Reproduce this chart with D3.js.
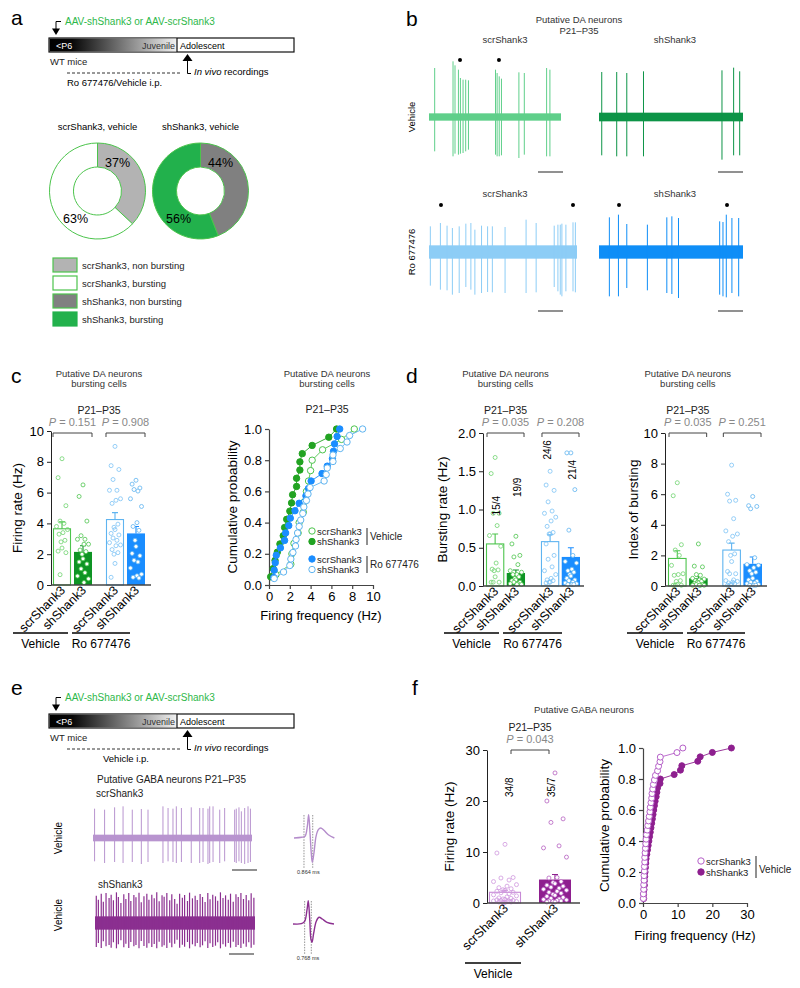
<!DOCTYPE html>
<html>
<head>
<meta charset="utf-8">
<script src="https://cdn.jsdelivr.net/npm/d3@7/dist/d3.min.js"></script>
<style>
  body { margin: 0; background: #fff; }
</style>
</head>
<body>
<script>
// ---------- values ----------
var genotypes = ["scrShank3", "shShank3"];
var treatments = ["Vehicle", "Ro 677476"];

// a: share of bursting / non bursting cells (%)
var donutScr = [37, 63];
var donutSh = [44, 56];
var legendItems = ["scrShank3, non bursting", "scrShank3, bursting", "shShank3, non bursting", "shShank3, bursting"];

// b: spike trains (time in % of sweep, up / down deflection in a.u.)
var tScrVeh = [4.3, 18.2, 19.7, 22.3, 23.8, 25.8, 27.8, 29.9, 50.4, 51.6, 53.2, 54.9, 68.1, 72.2, 89.1, 91.6];
var upScrVeh = [147, 167, 155, 142, 117, 112, 112, 110, 142, 132, 122, 115, 134, 132, 147, 142];
var dnScrVeh = [103, 118, 110, 113, 110, 108, 103, 98, 113, 118, 118, 115, 123, 113, 118, 118];
var tShVeh = [1.9, 12.3, 19.3, 30.9, 85.4, 93.5, 97.7];
var upShVeh = [135, 135, 132, 137, 140, 148, 137];
var dnShVeh = [115, 118, 118, 118, 128, 115, 115];
var tScrRo = [0.9, 7.7, 12.2, 15.8, 20.4, 24.9, 28.3, 31.0, 35.5, 39.6, 42.8, 51.4, 65.6, 72.4, 84.6, 87.1, 88.7, 89.8, 92.5, 97.3, 98.9];
var upScrRo = [77, 87, 79, 72, 77, 85, 87, 67, 79, 77, 77, 75, 97, 87, 79, 82, 82, 85, 82, 89, 89];
var dnScrRo = [101, 113, 115, 128, 123, 105, 113, 128, 123, 120, 121, 123, 123, 121, 105, 118, 128, 133, 118, 118, 121];
var tShRo = [7.2, 13.5, 19.3, 33.6, 47.1, 50.6, 55.2, 83.8, 86.1, 88.4, 92.3, 97.0];
var upShRo = [104, 112, 84, 82, 104, 107, 102, 92, 90, 112, 102, 102];
var dnShRo = [133, 133, 108, 115, 123, 126, 138, 128, 133, 136, 123, 133];
var burstScrVeh = [23.5, 53];
var burstScrRo = [8.1, 97.3];
var burstShRo = [13.9, 88.9];

// c: firing rate of bursting DA cells (Hz)
var frScrVeh = [8.2, 6.97, 5.15, 4.15, 4.0, 3.8, 3.6, 3.4, 3.3, 2.9, 2.8, 2.4, 2.2, 2.1, 0.67];
var frShVeh = [6.5, 5.75, 4.15, 3.2, 2.97, 2.97, 2.65, 2.65, 2.27, 2.17, 2.0, 1.7, 1.5, 1.37, 1.05, 0.8, 0.58, 0.4, 0.16];
var frScrRo = [9.0, 7.75, 7.5, 6.85, 6.15, 6.15, 5.6, 5.5, 5.3, 3.95, 3.75, 3.6, 3.35, 3.25, 3.05, 2.9, 2.75, 2.6, 2.55, 2.3, 2.1, 2.0, 1.4, 0.5];
var frShRo = [6.8, 6.55, 6.3, 6.2, 6.1, 5.6, 5.1, 4.05, 3.8, 3.55, 2.9, 2.5, 2.05, 1.9, 1.6, 1.5, 1.1, 0.7, 0.6, 0.5, 0.45];
var frMeans = [3.65, 2.15, 4.25, 3.35];
var frSems = [0.45, 0.4, 0.45, 0.45];
var pC = ["0.151", "0.908"];

// d: bursting rate (Hz) and index of bursting
var brScrVeh = [1.68, 1.47, 0.95, 0.95, 0.79, 0.66, 0.52, 0.30, 0.22, 0.21, 0.20, 0.12, 0.05, 0.05, 0.05];
var brShVeh = [0.65, 0.55, 0.40, 0.38, 0.28, 0.20, 0.18, 0.15, 0.15, 0.12, 0.10, 0.08, 0.07, 0.05, 0.05, 0.03, 0.03, 0.02, 0.02];
var brScrRo = [1.50, 1.32, 1.25, 1.10, 0.98, 0.95, 0.90, 0.85, 0.78, 0.70, 0.68, 0.68, 0.55, 0.40, 0.35, 0.25, 0.20, 0.15, 0.10, 0.08, 0.07, 0.05, 0.05, 0.04];
var brShRo = [1.74, 1.74, 1.26, 0.73, 0.40, 0.32, 0.30, 0.22, 0.20, 0.18, 0.15, 0.13, 0.10, 0.08, 0.07, 0.05, 0.04, 0.03, 0.02, 0.02, 0.02];
var brMeans = [0.55, 0.17, 0.58, 0.38];
var brSems = [0.13, 0.04, 0.09, 0.12];
var nLabelsD = ["15/4", "19/9", "24/6", "21/4"];
var pD1 = ["0.035", "0.208"];

var ibScrVeh = [6.75, 5.9, 2.7, 2.35, 2.0, 1.35, 0.8, 0.75, 0.7, 0.35, 0.3, 0.1, 0.05, 0.05, 0.05];
var ibShVeh = [2.75, 1.3, 1.25, 0.75, 0.7, 0.5, 0.45, 0.4, 0.35, 0.3, 0.25, 0.2, 0.15, 0.1, 0.1, 0.05, 0.05, 0.05, 0.05];
var ibScrRo = [7.9, 6.0, 5.6, 5.55, 4.4, 3.6, 3.4, 3.25, 2.9, 2.1, 2.0, 1.6, 0.95, 0.8, 0.8, 0.4, 0.35, 0.3, 0.25, 0.2, 0.15, 0.1, 0.1, 0.05];
var ibShRo = [5.85, 5.25, 5.2, 5.05, 1.85, 1.4, 1.35, 1.2, 1.0, 0.9, 0.8, 0.5, 0.4, 0.3, 0.25, 0.2, 0.15, 0.1, 0.05, 0.05, 0.05];
var ibMeans = [1.8, 0.5, 2.35, 1.45];
var ibSems = [0.5, 0.15, 0.45, 0.45];
var pD2 = ["0.035", "0.251"];

// e: GABA neuron spike trains and mean waveforms (ms, a.u.)
var tGabaScr = [1.0, 7.3, 13.6, 18.9, 24.7, 30.4, 34.6, 44.0, 47.2, 50.3, 52.4, 55.6, 61.8, 67.1, 69.2, 72.3, 73.4, 75.5, 79.7, 82.8, 89.1, 90.1, 91.8, 93.3, 95.4, 97.5, 99.0];
var upGabaScr = [88, 85, 92, 95, 85, 87, 85, 95, 90, 88, 95, 90, 92, 90, 90, 88, 95, 95, 85, 90, 85, 88, 92, 80, 90, 95, 88];
var dnGabaScr = [70, 75, 72, 75, 72, 78, 72, 75, 70, 72, 75, 72, 75, 75, 72, 78, 75, 72, 75, 70, 72, 75, 70, 75, 78, 75, 72];
var tGabaSh = [0.8, 2.1, 3.9, 5.2, 6.9, 8.8, 10.1, 11.5, 13.4, 14.6, 16.2, 18.0, 19.3, 21.1, 22.4, 24.3, 25.6, 27.5, 28.9, 30.6, 32.4, 33.7, 35.5, 37.0, 38.6, 40.1, 41.9, 43.2, 44.9, 46.7, 48.0, 49.8, 51.3, 52.9, 54.6, 56.0, 57.8, 59.1, 60.9, 62.6, 63.9, 65.7, 67.2, 68.8, 70.5, 71.9, 73.6, 75.3, 76.7, 78.4, 80.0, 81.6, 83.3, 84.7, 86.4, 88.1, 89.5, 91.2, 92.8, 94.5, 96.1, 97.6, 99.3];
var upGabaSh = [82, 70, 88, 64, 90, 75, 85, 68, 92, 78, 60, 86, 72, 90, 66, 84, 77, 91, 62, 80, 88, 70, 85, 74, 92, 65, 83, 79, 90, 68, 86, 72, 58, 88, 76, 84, 66, 91, 74, 82, 69, 87, 78, 63, 90, 71, 85, 80, 67, 92, 75, 83, 70, 88, 64, 86, 78, 90, 72, 84, 68, 89, 76];
var dnGabaSh = [72, 60, 75, 55, 70, 66, 74, 58, 76, 64, 52, 73, 62, 75, 57, 70, 66, 76, 54, 69, 74, 61, 72, 63, 76, 56, 71, 67, 75, 59, 73, 62, 50, 74, 65, 71, 57, 76, 64, 70, 60, 73, 67, 55, 75, 61, 72, 68, 58, 76, 64, 71, 60, 74, 56, 72, 66, 75, 62, 71, 58, 74, 65];
var wfScrT = [0, 0.74, 1.06, 1.28, 1.41, 1.54, 1.66, 1.76, 1.92, 2.12, 2.34, 2.57, 2.88, 3.30, 3.88];
var wfScrV = [0, 0.7, 1.7, 11.7, 23.3, 5, -15, -24.3, -15, 1.7, 8.3, 10, 7.7, 3.3, 0];
var wfShT = [0, 0.8, 1.12, 1.35, 1.47, 1.61, 1.73, 1.83, 1.99, 2.24, 2.5, 2.82, 3.27, 3.94];
var wfShV = [0, 0.3, 2.7, 14.3, 23.3, 4.3, -15.7, -18.3, -9, 2.7, 6.7, 5, 1.7, 0];
var cursScr = [0.96, 1.80];
var cursSh = [1.12, 1.76];

// f: GABA firing rate (Hz)
var gabaScr = [11.5, 9.8, 5.0, 4.9, 4.5, 4.2, 3.6, 3.3, 3.0, 2.8, 2.6, 2.5, 2.3, 2.1, 2.0, 1.8, 1.6, 1.4, 1.2, 1.0, 0.9, 0.8, 0.7, 0.6, 0.5, 0.5, 0.4, 0.4, 0.3, 0.3, 0.2, 0.2, 0.1, 0.1];
var gabaSh = [25.5, 20.0, 16.5, 15.8, 11.2, 10.8, 9.0, 5.0, 4.9, 4.2, 4.0, 3.8, 3.5, 3.3, 3.1, 2.9, 2.7, 2.5, 2.3, 2.1, 1.9, 1.7, 1.5, 1.3, 1.1, 0.9, 0.8, 0.7, 0.6, 0.5, 0.4, 0.4, 0.3, 0.2, 0.2];
var gabaMeans = [2.1, 4.6];
var gabaSems = [0.4, 1.0];
var nLabelsF = ["34/8", "35/7"];
var pF = ["0.043"];

// ---------- drawing ----------
var FONT = "'Liberation Sans', Arial, Helvetica, sans-serif";
var svg = d3.select("body").append("svg")
    .attr("width", 800)
    .attr("height", 988)
    .attr("font-family", FONT);
svg.append("rect").attr("width", 800).attr("height", 988).attr("fill", "#fff");

var grad = svg.append("defs").append("linearGradient").attr("id", "ageGrad");
grad.append("stop").attr("offset", "0%").attr("stop-color", "#000");
grad.append("stop").attr("offset", "18%").attr("stop-color", "#080808");
grad.append("stop").attr("offset", "100%").attr("stop-color", "#f2f2f2");

function txt(x, y, s, size, o) {
    o = o || {};
    var t = svg.append("text")
        .attr("x", x).attr("y", y)
        .attr("font-size", size)
        .attr("fill", o.fill || "#000")
        .attr("text-anchor", o.anchor || "start")
        .text(s);
    if (o.rotate) t.attr("transform", "rotate(" + o.rotate + "," + x + "," + y + ")");
    return t;
}

// panel letters
txt(11, 25, "a", 21);
txt(406, 26, "b", 21);
txt(11, 383, "c", 21);
txt(406, 383, "d", 21);
txt(11, 695, "e", 21);
txt(412, 695, "f", 21);

// timeline schematic (a and e)
function timeline(dy, drug, drugX) {
    var g = svg.append("g").attr("transform", "translate(0," + dy + ")");
    g.append("text").attr("x", 65).attr("y", 25).attr("font-size", 10).attr("fill", "#2db84a")
        .text("AAV-shShank3 or AAV-scrShank3");
    g.append("path").attr("d", "M61,21.5H56V29").attr("fill", "none").attr("stroke", "#000");
    g.append("path").attr("d", "M52,28.5L60,28.5L56,35Z").attr("fill", "#000");
    g.append("rect").attr("x", 49).attr("y", 38).attr("width", 245).attr("height", 14)
        .attr("fill", "#fff").attr("stroke", "#111").attr("stroke-width", 1.2);
    g.append("rect").attr("x", 49.6).attr("y", 38.6).attr("width", 127.4).attr("height", 12.8)
        .attr("fill", "url(#ageGrad)");
    g.append("line").attr("x1", 177).attr("x2", 177).attr("y1", 38).attr("y2", 52)
        .attr("stroke", "#111").attr("stroke-width", 1.2);
    g.append("text").attr("x", 56).attr("y", 48.5).attr("font-size", 9).attr("fill", "#fff").text("<P6");
    g.append("text").attr("x", 175).attr("y", 48.5).attr("font-size", 9).attr("fill", "#333")
        .attr("text-anchor", "end").text("Juvenile");
    g.append("text").attr("x", 180).attr("y", 48.5).attr("font-size", 9).text("Adolescent");
    g.append("text").attr("x", 50).attr("y", 65).attr("font-size", 9.5).attr("fill", "#222").text("WT mice");
    g.append("line").attr("x1", 67).attr("x2", 182).attr("y1", 73).attr("y2", 73)
        .attr("stroke", "#333").attr("stroke-dasharray", "3,2");
    g.append("path").attr("d", "M182.5,61L192.5,61L187.5,54Z").attr("fill", "#000");
    g.append("path").attr("d", "M187.5,61V73.5H191").attr("fill", "none").attr("stroke", "#000");
    var t = g.append("text").attr("x", 194).attr("y", 75).attr("font-size", 9.5);
    t.append("tspan").attr("font-style", "italic").text("In vivo");
    t.append("tspan").text(" recordings");
    g.append("text").attr("x", drugX).attr("y", 86).attr("font-size", 9.5).text(drug);
}
timeline(0, "Ro 677476/Vehicle i.p.", 67);
timeline(676, "Vehicle i.p.", 103);

// donuts (a)
var pie = d3.pie().sort(null);
var ring = d3.arc().innerRadius(24).outerRadius(48);
function donut(cx, cy, vals, fills, title) {
    var g = svg.append("g").attr("transform", "translate(" + cx + "," + cy + ")");
    g.selectAll("path").data(pie(vals)).enter().append("path")
        .attr("d", ring)
        .attr("fill", function(d, i) { return fills[i]; })
        .attr("stroke", "#4cc44c")
        .attr("stroke-width", 1);
    g.append("text").attr("y", -61).attr("text-anchor", "middle").attr("font-size", 9.5).text(title);
    var offs = [[20, -24], [-22, 32]];
    vals.forEach(function(v, i) {
        g.append("text").attr("x", offs[i][0]).attr("y", offs[i][1]).attr("text-anchor", "middle")
            .attr("font-size", 12.5).text(v + "%");
    });
}
donut(97.5, 191, donutScr, ["#b3b3b3", "#fff"], "scrShank3, vehicle");
donut(200.5, 191, donutSh, ["#808080", "#22b14c"], "shShank3, vehicle");

var legFill = ["#b3b3b3", "#fff", "#808080", "#22b14c"];
var legStroke = ["#4cc44c", "#4cc44c", "#4cc44c", "#22b14c"];
legendItems.forEach(function(s, i) {
    var yy = 258 + i * 18;
    svg.append("rect").attr("x", 53).attr("y", yy).attr("width", 24).attr("height", 14)
        .attr("fill", legFill[i]).attr("stroke", legStroke[i]).attr("stroke-width", 1.2);
    txt(82, yy + 11, s, 9.5, {fill: "#222"});
});

// spike traces (b, e)
function trace(o) {
    var x = d3.scaleLinear().domain([0, 100]).range([o.x0, o.x1]);
    var y = d3.scaleLinear().domain([-150, 150]).range([o.base + 50, o.base - 50]);
    var g = svg.append("g");
    g.append("rect").attr("x", o.x0).attr("width", o.x1 - o.x0)
        .attr("y", y(o.noise)).attr("height", y(-o.noise) - y(o.noise))
        .attr("fill", o.color);
    g.selectAll("line.sp").data(o.t).enter().append("line")
        .attr("class", "sp")
        .attr("x1", function(d) { return x(d); })
        .attr("x2", function(d) { return x(d); })
        .attr("y1", function(d, i) { return y(o.up[i]); })
        .attr("y2", function(d, i) { return y(-o.dn[i]); })
        .attr("stroke", o.color)
        .attr("stroke-width", o.sw || 1);
    (o.marks || []).forEach(function(m) {
        g.append("circle").attr("cx", x(m)).attr("cy", o.markY).attr("r", 2).attr("fill", "#000");
    });
    g.append("line").attr("x1", o.barX).attr("x2", o.barX + 25).attr("y1", o.barY).attr("y2", o.barY)
        .attr("stroke", "#555").attr("stroke-width", 1.3);
}

txt(579, 23, "Putative DA neurons", 9.5, {anchor: "middle", fill: "#333"});
txt(579, 34, "P21–P35", 9.5, {anchor: "middle", fill: "#333"});
txt(505, 43, "scrShank3", 9.5, {anchor: "middle", fill: "#333"});
txt(675, 43, "shShank3", 9.5, {anchor: "middle", fill: "#333"});
txt(505, 197, "scrShank3", 9.5, {anchor: "middle", fill: "#333"});
txt(675, 197, "shShank3", 9.5, {anchor: "middle", fill: "#333"});
txt(415, 117, "Vehicle", 9.5, {anchor: "middle", rotate: -90});
txt(415, 252, "Ro 677476", 9.5, {anchor: "middle", rotate: -90});

trace({x0: 429, x1: 561, base: 117, noise: 11, color: "#5fcf8a", t: tScrVeh, up: upScrVeh, dn: dnScrVeh,
       marks: burstScrVeh, markY: 60, barX: 538, barY: 172});
trace({x0: 599, x1: 743, base: 117, noise: 13, color: "#0d9447", t: tShVeh, up: upShVeh, dn: dnShVeh,
       barX: 718, barY: 172});
trace({x0: 429, x1: 577, base: 252, noise: 20, color: "#8dcdf6", t: tScrRo, up: upScrRo, dn: dnScrRo,
       marks: burstScrRo, markY: 205, barX: 538, barY: 311});
trace({x0: 599, x1: 743, base: 252, noise: 20, color: "#0f8ef7", t: tShRo, up: upShRo, dn: dnShRo,
       marks: burstShRo, markY: 205, barX: 718, barY: 311});

// e traces
txt(97, 783, "Putative GABA neurons  P21–P35", 10, {fill: "#222"});
txt(96, 797, "scrShank3", 10, {fill: "#222"});
txt(98, 888, "shShank3", 10, {fill: "#222"});
txt(62, 838, "Vehicle", 10, {anchor: "middle", rotate: -90});
txt(62, 915, "Vehicle", 10, {anchor: "middle", rotate: -90});
trace({x0: 93, x1: 252, base: 838, noise: 10, color: "#b894cf", t: tGabaScr, up: upGabaScr, dn: dnGabaScr,
       barX: 232, barY: 870});
trace({x0: 95, x1: 255, base: 923, noise: 20, color: "#8b2f90", t: tGabaSh, up: upGabaSh, dn: dnGabaSh,
       barX: 229, barY: 954, sw: 1.2});

function waveform(o) {
    var x = d3.scaleLinear().domain([0, 1]).range([o.x0, o.x0 + 10.4]);
    var y = d3.scaleLinear().domain([0, 1]).range([o.base, o.base - 1]);
    var g = svg.append("g");
    o.curs.forEach(function(c) {
        g.append("line").attr("x1", x(c)).attr("x2", x(c)).attr("y1", o.base - 23).attr("y2", o.base + 31)
            .attr("stroke", "#666").attr("stroke-width", 0.7).attr("stroke-dasharray", "1.5,1.2");
    });
    var pts = o.t.map(function(t, i) { return [t, o.v[i]]; });
    g.append("path").datum(pts)
        .attr("d", d3.line().curve(d3.curveCatmullRom).x(function(d) { return x(d[0]); }).y(function(d) { return y(d[1]); }))
        .attr("fill", "none").attr("stroke", o.color).attr("stroke-width", 1.4);
    g.append("text").attr("x", x((o.curs[0] + o.curs[1]) / 2)).attr("y", o.base + 36)
        .attr("text-anchor", "middle").attr("font-size", 5.5).attr("fill", "#333").text(o.label);
}
waveform({x0: 294, base: 838, t: wfScrT, v: wfScrV, curs: cursScr, color: "#b48ccb", label: "0.864 ms"});
waveform({x0: 293, base: 924, t: wfShT, v: wfShV, curs: cursSh, color: "#8b2f90", label: "0.768 ms"});

// bar charts with individual cells (c, d, f)
var daStyles = [
    {open: true, color: "#4cc44c", pt: "#6fd36f"},
    {open: false, color: "#0e9424", pt: "#4cc44c"},
    {open: true, color: "#5fb4f0", pt: "#7cc3f5"},
    {open: false, color: "#1a8dff", pt: "#5fb4f0"}
];
var gabaStyles = [
    {open: true, color: "#c78ad6", pt: "#cf98de"},
    {open: false, color: "#8e1f8f", pt: "#b55fc0"}
];

function barPanel(o) {
    var g = svg.append("g");
    var y = d3.scaleLinear().domain([0, o.max]).range([o.yBot, o.yTop]);
    var outer = d3.scaleBand().domain(o.groups).range(o.range).paddingInner(o.gap);
    var inner = d3.scaleBand().domain(genotypes).range([0, outer.bandwidth()]).paddingInner(o.innerPad);
    var bars = o.means.map(function(m, i) {
        var x = outer(o.groups[Math.floor(i / 2)]) + inner(genotypes[i % 2]);
        return {x: x, w: inner.bandwidth(), cx: x + inner.bandwidth() / 2, mean: m, sem: o.sems[i],
                pts: o.pts[i], st: o.styles[i], name: genotypes[i % 2]};
    });

    g.selectAll(".bar").data(bars).enter().append("rect")
        .attr("class", "bar")
        .attr("x", function(d) { return d.st.open ? d.x + 0.5 : d.x; })
        .attr("width", function(d) { return d.st.open ? d.w - 1 : d.w; })
        .attr("y", function(d) { return y(d.mean); })
        .attr("height", function(d) { return o.yBot - y(d.mean); })
        .attr("fill", function(d) { return d.st.open ? "#fff" : d.st.color; })
        .attr("stroke", function(d) { return d.st.open ? d.st.color : "none"; })
        .attr("stroke-width", 1.1);

    // mean + sem
    bars.forEach(function(d) {
        var top = y(d.mean + d.sem);
        g.append("path")
            .attr("d", "M" + d.cx + "," + y(d.mean) + "V" + top + "M" + (d.cx - 3) + "," + top + "H" + (d.cx + 3))
            .attr("stroke", d.st.color).attr("stroke-width", 1.1).attr("fill", "none");
    });

    // cells
    var jit = [0, -0.6, 0.6, -0.3, 0.3, -0.85, 0.85, 0.15, -0.45, 0.45, -0.15];
    bars.forEach(function(d) {
        var half = d.w / 2 - 2.5;
        g.selectAll(null).data(d.pts).enter().append("circle")
            .attr("cx", function(v, k) { return d.cx + jit[k % jit.length] * half; })
            .attr("cy", function(v) { return y(v); })
            .attr("r", 2)
            .attr("fill", d.st.open ? "none" : "#fff")
            .attr("stroke", d.st.pt)
            .attr("stroke-width", 0.8);
    });

    // axes
    var ax = g.append("g").attr("transform", "translate(" + o.axisX + ",0)")
        .call(d3.axisLeft(y).tickValues(o.ticks).tickFormat(d3.format(o.fmt)).tickSize(4).tickSizeOuter(0));
    ax.attr("font-family", FONT).attr("font-size", 13);
    ax.selectAll("path,line").attr("stroke", "#222");
    g.append("line").attr("x1", o.axisX).attr("x2", o.axisEnd).attr("y1", o.yBot).attr("y2", o.yBot)
        .attr("stroke", "#444").attr("stroke-width", 1.4);
    bars.forEach(function(d) {
        var tx = d.cx + 4, ty = o.yBot + 6;
        g.append("text").attr("x", tx).attr("y", ty).attr("text-anchor", "end").attr("font-size", 12.5)
            .attr("transform", "rotate(-45," + tx + "," + ty + ")").text(d.name);
    });
    g.append("text").attr("x", o.ylabX).attr("y", (o.yTop + o.yBot) / 2).attr("text-anchor", "middle")
        .attr("font-size", 13.5).attr("transform", "rotate(-90," + o.ylabX + "," + (o.yTop + o.yBot) / 2 + ")")
        .text(o.ylabel);

    // brackets and P values
    var by = o.bracketY;
    o.pvals.forEach(function(p, k) {
        var x1 = bars[2 * k].x + o.bInset, x2 = bars[2 * k + 1].x + bars[2 * k + 1].w - o.bInset;
        g.append("path").attr("d", "M" + x1 + "," + (by + 4) + "V" + by + "H" + x2 + "V" + (by + 4))
            .attr("fill", "none").attr("stroke", "#444").attr("stroke-width", 1);
        var t = g.append("text").attr("x", (x1 + x2) / 2).attr("y", by - 7).attr("text-anchor", "middle")
            .attr("font-size", 11).attr("fill", "#888");
        t.append("tspan").attr("font-style", "italic").text("P");
        t.append("tspan").text(" = " + p);
    });
    var mid = (bars[0].x + bars[bars.length - 1].x + bars[bars.length - 1].w) / 2;
    if (o.bInset) mid = (bars[0].x + o.bInset + bars[1].x + bars[1].w - o.bInset) / 2;
    g.append("text").attr("x", mid).attr("y", by - 19).attr("text-anchor", "middle")
        .attr("font-size", 10.5).attr("fill", "#222").text("P21–P35");
    if (o.title) {
        g.append("text").attr("x", mid).attr("y", by - 56).attr("text-anchor", "middle")
            .attr("font-size", 9.5).attr("fill", "#333").text("Putative DA neurons");
        g.append("text").attr("x", mid).attr("y", by - 46).attr("text-anchor", "middle")
            .attr("font-size", 9.5).attr("fill", "#333").text("bursting cells");
    }

    // n labels
    (o.nlab || []).forEach(function(s, i) {
        var nx = bars[i].cx + o.nPos[i][1], ny = y(o.nPos[i][0]);
        g.append("text").attr("x", nx).attr("y", ny).attr("text-anchor", "middle").attr("font-size", 10)
            .attr("transform", "rotate(-90," + nx + "," + ny + ")").text(s);
    });

    // treatment underlines
    o.lines.forEach(function(l, i) {
        g.append("line").attr("x1", l[0]).attr("x2", l[1]).attr("y1", o.lineY).attr("y2", o.lineY)
            .attr("stroke", "#000").attr("stroke-width", 1.3);
        g.append("text").attr("x", (l[0] + l[1]) / 2).attr("y", o.lineY + 15).attr("text-anchor", "middle")
            .attr("font-size", 12).text(o.groups[i]);
    });
}

barPanel({axisX: 51, axisEnd: 151, range: [53, 145], groups: treatments, gap: 0.264, innerPad: 0.143,
    yTop: 431, yBot: 585, max: 10, ticks: [0, 2, 4, 6, 8, 10], fmt: "d",
    means: frMeans, sems: frSems, pts: [frScrVeh, frShVeh, frScrRo, frShRo], styles: daStyles,
    ylabel: "Firing rate (Hz)", ylabX: 22, bracketY: 433, bInset: 0, pvals: pC, title: true,
    lineY: 633, lines: [[13, 68], [72, 130]]});

barPanel({axisX: 483, axisEnd: 584, range: [486, 580], groups: treatments, gap: 0.29, innerPad: 0.12,
    yTop: 433, yBot: 586, max: 2, ticks: [0, 0.5, 1, 1.5, 2], fmt: ".1f",
    means: brMeans, sems: brSems, pts: [brScrVeh, brShVeh, brScrRo, brShRo], styles: daStyles,
    ylabel: "Bursting rate (Hz)", ylabX: 447, bracketY: 433, bInset: 1, pvals: pD1, title: true,
    nlab: nLabelsD, nPos: [[1.05, 4.5], [1.29, 5], [1.78, 1], [1.52, 5.5]],
    lineY: 633, lines: [[444, 499], [503, 562]]});

barPanel({axisX: 665, axisEnd: 767, range: [668, 762], groups: treatments, gap: 0.27, innerPad: 0.12,
    yTop: 433, yBot: 586, max: 10, ticks: [0, 2, 4, 6, 8, 10], fmt: "d",
    means: ibMeans, sems: ibSems, pts: [ibScrVeh, ibShVeh, ibScrRo, ibShRo], styles: daStyles,
    ylabel: "Index of bursting", ylabX: 638, bracketY: 433, bInset: 1, pvals: pD2, title: true,
    lineY: 633, lines: [[627, 683], [687, 745]]});

barPanel({axisX: 487, axisEnd: 580, range: [489, 571], groups: ["Vehicle"], gap: 0, innerPad: 0.36,
    yTop: 750, yBot: 903, max: 30, ticks: [0, 10, 20, 30], fmt: "d",
    means: gabaMeans, sems: gabaSems, pts: [gabaScr, gabaSh], styles: gabaStyles,
    ylabel: "Firing rate (Hz)", ylabX: 454, bracketY: 750, bInset: 22, pvals: pF,
    nlab: nLabelsF, nPos: [[22.7, 8], [22.7, 0]],
    lineY: 963, lines: [[465, 521]]});

txt(584, 713, "Putative GABA neurons", 9.5, {anchor: "middle", fill: "#333"});

// cumulative distributions (c, f)
function cumPanel(o) {
    var g = svg.append("g");
    var x = d3.scaleLinear().domain([0, o.xMax]).range([o.axisX, o.axisX + o.xLen]);
    var y = d3.scaleLinear().domain([0, 1]).range([o.yBot, o.yTop]);
    var xa = g.append("g").attr("transform", "translate(0," + o.yBot + ")")
        .call(d3.axisBottom(x).tickValues(o.xTicks).tickSize(4).tickSizeOuter(0));
    var ya = g.append("g").attr("transform", "translate(" + o.axisX + ",0)")
        .call(d3.axisLeft(y).tickValues([0, 0.2, 0.4, 0.6, 0.8, 1]).tickFormat(d3.format(".1f")).tickSize(4).tickSizeOuter(0));
    [xa, ya].forEach(function(a) {
        a.attr("font-family", FONT).attr("font-size", 13);
        a.selectAll("path,line").attr("stroke", "#444").attr("stroke-width", 1.2);
    });
    o.series.forEach(function(s) {
        var sorted = s.vals.slice().sort(d3.ascending);
        var pts = sorted.map(function(v, i) { return [v, (i + 1) / sorted.length]; });
        g.append("path").datum(pts)
            .attr("d", d3.line().x(function(d) { return x(d[0]); }).y(function(d) { return y(d[1]); }))
            .attr("fill", "none").attr("stroke", s.color).attr("stroke-width", 0.9);
        g.selectAll(null).data(pts).enter().append("circle")
            .attr("cx", function(d) { return x(d[0]); })
            .attr("cy", function(d) { return y(d[1]); })
            .attr("r", o.r)
            .attr("fill", s.open ? "#fff" : s.color)
            .attr("stroke", s.color)
            .attr("stroke-width", 1);
    });
    var my = (o.yTop + o.yBot) / 2;
    g.append("text").attr("x", o.ylabX).attr("y", my).attr("text-anchor", "middle").attr("font-size", 13.5)
        .attr("transform", "rotate(-90," + o.ylabX + "," + my + ")").text("Cumulative probability");
    g.append("text").attr("x", o.axisX + o.xLen / 2).attr("y", o.xlabY).attr("text-anchor", "middle")
        .attr("font-size", 13).text("Firing frequency (Hz)");
}

cumPanel({axisX: 269, xLen: 104, xMax: 10, xTicks: [0, 2, 4, 6, 8, 10], yTop: 429, yBot: 585, r: 3.2,
    ylabX: 237, xlabY: 620,
    series: [
        {vals: frShVeh, color: "#22a322", open: false},
        {vals: frScrVeh, color: "#4cc44c", open: true},
        {vals: frShRo, color: "#1a8dff", open: false},
        {vals: frScrRo, color: "#5fb4f0", open: true}
    ]});
txt(327, 377, "Putative DA neurons", 9.5, {anchor: "middle", fill: "#333"});
txt(327, 387, "bursting cells", 9.5, {anchor: "middle", fill: "#333"});
txt(327, 413, "P21–P35", 10.5, {anchor: "middle", fill: "#222"});

cumPanel({axisX: 643, xLen: 104, xMax: 30, xTicks: [0, 10, 20, 30], yTop: 748, yBot: 903, r: 3,
    ylabX: 609, xlabY: 940,
    series: [
        {vals: gabaSh, color: "#8e1f8f", open: false},
        {vals: gabaScr, color: "#b55fc8", open: true}
    ]});

// cumulative legends
function legendMark(x, y, color, open, label) {
    svg.append("circle").attr("cx", x).attr("cy", y).attr("r", 3.2)
        .attr("fill", open ? "#fff" : color).attr("stroke", color).attr("stroke-width", 1);
    txt(x + 5, y + 3.5, label, 9.5, {fill: "#222"});
}
legendMark(312, 531, "#4cc44c", true, "scrShank3");
legendMark(312, 541.5, "#22a322", false, "shShank3");
svg.append("line").attr("x1", 367).attr("x2", 367).attr("y1", 528).attr("y2", 545).attr("stroke", "#222");
txt(370, 540, "Vehicle", 10, {fill: "#222"});
legendMark(312, 559, "#1a8dff", false, "scrShank3");
legendMark(312, 569.5, "#5fb4f0", true, "shShank3");
svg.append("line").attr("x1", 367).attr("x2", 367).attr("y1", 556).attr("y2", 573).attr("stroke", "#222");
txt(370, 568, "Ro 677476", 10, {fill: "#222"});

legendMark(701, 861, "#b55fc8", true, "scrShank3");
legendMark(701, 872, "#8e1f8f", false, "shShank3");
svg.append("line").attr("x1", 756).attr("x2", 756).attr("y1", 856).attr("y2", 878).attr("stroke", "#222");
txt(759, 873, "Vehicle", 10, {fill: "#222"});
</script>
</body>
</html>
